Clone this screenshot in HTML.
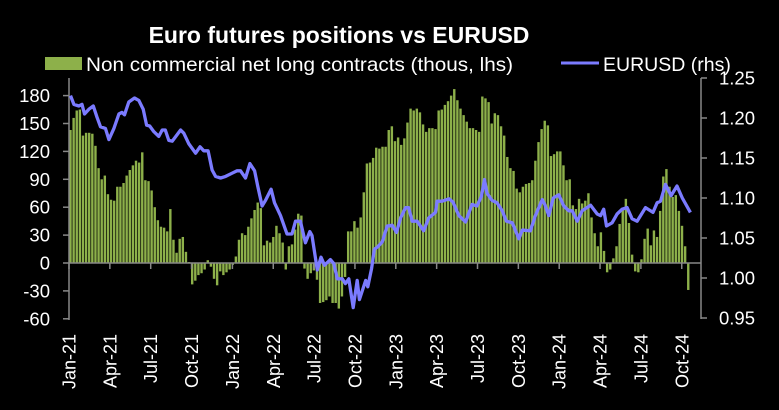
<!DOCTYPE html>
<html><head><meta charset="utf-8"><style>
html,body{margin:0;padding:0;background:#000;}
svg{display:block;font-family:"Liberation Sans",sans-serif;}
</style></head><body>
<svg id="chart" width="779" height="410" viewBox="0 0 779 410">
<text x="339" y="43" fill="#fff" font-size="23" font-weight="bold" text-anchor="middle">Euro futures positions vs EURUSD</text>
<rect x="45" y="57" width="37" height="13" fill="#8DB04A"/>
<text x="86" y="71" fill="#fff" font-size="19.5" textLength="427" lengthAdjust="spacingAndGlyphs">Non commercial net long contracts (thous, lhs)</text>
<line x1="561" y1="63" x2="599" y2="63" stroke="#7B7BFF" stroke-width="3"/>
<text x="603" y="71" fill="#fff" font-size="19.5">EURUSD (rhs)</text>
<g id="bars"></g>
<g id="axes"></g>
<path id="fxline" fill="none" stroke="#7B7BFF" stroke-width="3.3" stroke-linejoin="round"/>
</svg>
<script>
const positions=[143,156,164,165,137,140,140,139,126,102,90,94,74,68,67,82,82,86,94,100,105,110,108,119,89,88,78,60,46,39,38,34,58,25,11,26,28,12,1,-23,-19,-13,-11,-7,3,-4,-17,-24,-9,-13,-10,-7,-2,7,25,32,30,39,48,57,65,59,19,24,22,28,40,32,22,-7,18,20,36,53,51,-6,-17,-11,-8,-18,-43,-42,-40,-36,-43,-43,-49,-36,-15,34,34,45,38,49,76,107,108,113,124,123,125,125,143,147,131,135,127,134,151,166,164,166,162,149,141,145,145,144,164,165,170,174,180,187,175,166,159,152,145,145,143,141,179,177,173,150,161,159,147,137,114,102,99,80,76,82,85,86,89,110,130,144,153,148,115,117,120,120,105,89,90,62,58,69,64,67,75,49,32,18,33,13,-10,-7,5,18,42,57,69,43,9,-9,-10,4,26,37,19,35,28,56,93,101,82,71,73,56,40,18,-29];
const fxWeeks=[0,1.1,2.7,3.7,4.5,5.9,7.3,8.5,9.6,11.2,12.3,13.9,15.5,16.5,17.3,18.7,20.5,21.9,23.3,24.4,25.4,26.7,28.3,29.4,30.4,31.5,32.6,35.3,36.3,37.9,40.1,41.5,42.7,44.1,45.4,46.5,48.1,49.7,51.8,53.4,54.5,56.1,57.5,59,60,61.4,62.5,64.3,65.4,67.3,69.4,71,72.1,73.7,75.3,76.7,77.4,79.1,80.3,81.4,83.3,84.4,85.5,87.1,88.1,89.2,90.6,91.9,92.6,94.6,95.3,96.5,97.4,98.5,99.9,101.5,103.1,104.5,105.8,107.4,108.4,109.5,111.1,113.2,114.8,117,117.5,119.1,121.3,122.6,124.5,126.6,128.7,130.3,131.7,132.7,133.5,135.1,136.7,138.4,139.7,141.6,143.7,144.8,147.4,149,151.2,151.9,153.3,154.7,156.5,158.1,159.7,160.8,162.4,164,166.7,168.8,169.9,170.9,171.8,173.6,175.2,176.8,178.4,180,181.6,184.3,186.7,188,189.1,190.7,192.5,194.4,196.1,198.7];
const fxRates=[1.228,1.217,1.215,1.217,1.205,1.211,1.215,1.201,1.189,1.187,1.173,1.187,1.205,1.207,1.204,1.220,1.225,1.222,1.211,1.191,1.190,1.183,1.177,1.185,1.185,1.172,1.171,1.185,1.181,1.168,1.156,1.164,1.159,1.159,1.135,1.127,1.125,1.127,1.131,1.134,1.134,1.125,1.143,1.134,1.115,1.090,1.097,1.111,1.094,1.078,1.055,1.055,1.071,1.071,1.044,1.058,1.053,1.010,1.026,1.016,1.023,1.018,0.999,0.999,0.993,0.999,0.963,0.997,0.973,0.997,0.989,1.012,1.036,1.039,1.045,1.065,1.066,1.057,1.075,1.088,1.088,1.071,1.071,1.059,1.075,1.082,1.096,1.096,1.099,1.095,1.078,1.070,1.092,1.090,1.102,1.123,1.106,1.097,1.094,1.084,1.071,1.069,1.049,1.060,1.059,1.078,1.098,1.093,1.078,1.100,1.104,1.090,1.084,1.084,1.071,1.084,1.091,1.080,1.078,1.086,1.065,1.069,1.080,1.086,1.088,1.074,1.071,1.088,1.082,1.094,1.096,1.117,1.103,1.115,1.100,1.082];
const leftTicks=[180,150,120,90,60,30,0,-30,-60];
const rightTicks=[1.25,1.20,1.15,1.10,1.05,1.00,0.95];
const monthLabels=["Jan-21","Apr-21","Jul-21","Oct-21","Jan-22","Apr-22","Jul-22","Oct-22","Jan-23","Apr-23","Jul-23","Oct-23","Jan-24","Apr-24","Jul-24","Oct-24"];

const NS="http://www.w3.org/2000/svg";
const X0=69,X1=701;
const yL=v=>263-v*(27.9/30);
const yR=v=>318-(v-0.95)*800;
const xW=w=>70.5+w*3.12;
const xM=i=>69+i*40.85;
function mk(tag,attrs,parent){const e=document.createElementNS(NS,tag);for(const k in attrs)e.setAttribute(k,attrs[k]);parent.appendChild(e);return e;}
const barsG=document.getElementById('bars'),axG=document.getElementById('axes');
positions.forEach((v,i)=>{
  const y=Math.min(yL(v),yL(0)),h=Math.abs(yL(v)-yL(0));
  const r=mk('rect',{x:xW(i)-1.2,y:y,width:2.4,height:h,fill:'#8DB04A'},barsG);
  
  
});
const z=mk('line',{x1:X0,x2:X1,y1:yL(0),y2:yL(0),stroke:'#888','stroke-width':1.5},axG);


const la=mk('line',{x1:X0,x2:X0,y1:78,y2:320,stroke:'#888','stroke-width':1.5},axG);


const ra=mk('line',{x1:X1,x2:X1,y1:78,y2:319,stroke:'#888','stroke-width':1.5},axG);


leftTicks.forEach(v=>{
  mk('line',{x1:X0-6,x2:X0,y1:yL(v),y2:yL(v),stroke:'#888','stroke-width':1.5},axG);
  const t=mk('text',{x:50,y:yL(v)+6.5,fill:'#fff','font-size':18.5,'text-anchor':'end'},axG);
  t.textContent=v;
  
  
});
rightTicks.forEach(v=>{
  mk('line',{x1:X1,x2:X1+6,y1:yR(v),y2:yR(v),stroke:'#888','stroke-width':1.5},axG);
  const t=mk('text',{x:719,y:yR(v)+6.5,fill:'#fff','font-size':18.5},axG);
  t.textContent=v.toFixed(2);
  
  
});
monthLabels.forEach((m,i)=>{
  const x=xM(i);
  mk('line',{x1:x,x2:x,y1:yL(0),y2:yL(0)+6,stroke:'#888','stroke-width':1.5},axG);
  const t=mk('text',{x:0,y:0,fill:'#fff','font-size':18,'text-anchor':'end',transform:`translate(${x+6.5},334) rotate(-90)`},axG);
  t.textContent=m;
  
  
});
document.getElementById('fxline').setAttribute('d',fxWeeks.map((w,i)=>(i?'L':'M')+xW(w).toFixed(1)+','+yR(fxRates[i]).toFixed(1)).join(''));
</script>
</body></html>
